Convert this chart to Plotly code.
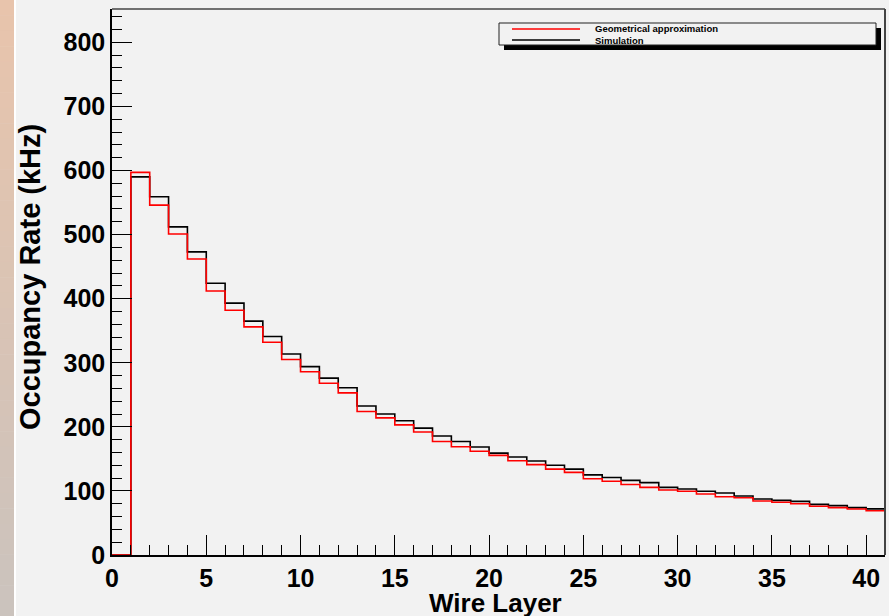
import plotly.graph_objects as go

# ---- data (bin edges 0..41, one value per unit-wide bin) ----
bin_edges = list(range(0, 42))
geometrical = [0, 597, 546, 501, 462, 412, 382, 356, 332, 305,
               286, 268, 253, 224, 214, 203, 192, 177, 169, 162,
               155.5, 147, 141, 134, 129, 119, 115, 110, 105.6, 101.4,
               99.4, 95.2, 91, 89.4, 84.2, 82.2, 80, 76, 74, 71.8,
               69]
simulation = [0, 590, 559, 512, 473, 424, 393, 365, 341, 313.6,
              294, 276, 261, 232.5, 220, 209.5, 198, 185.6, 177, 168.5,
              159, 153, 146.6, 140, 134, 125, 121, 116.5, 113, 105.6,
              103, 99.4, 96.7, 92, 87.4, 85.3, 83.7, 79, 77, 74,
              72]
x_ticks = [0, 5, 10, 15, 20, 25, 30, 35, 40]
y_ticks = [0, 100, 200, 300, 400, 500, 600, 700, 800]
legend_labels = ["Geometrical approximation", "Simulation"]

W, H = 889, 616
L, R, T, B = 112, 885, 9, 555  # plot area in pixels

def px(x):
    return (x - L) / (R - L)

def py(y):
    return (B - y) / (B - T)

FONT = "Liberation Sans, Arial, Helvetica, sans-serif"

fig = go.Figure()
fig.add_trace(go.Scatter(x=bin_edges, y=simulation + [simulation[-1]],
                         mode="lines", line=dict(color="black", width=1.6, shape="hv"),
                         name=legend_labels[1], showlegend=False, hoverinfo="skip"))
fig.add_trace(go.Scatter(x=bin_edges, y=geometrical + [geometrical[-1]],
                         mode="lines", line=dict(color="#ff0000", width=1.6, shape="hv"),
                         name=legend_labels[0], showlegend=False, hoverinfo="skip"))

shapes = []
# left gradient strip (slide background)
n = 40
c0 = (232, 196, 172)
c1 = (203, 195, 189)
for i in range(n):
    f = i / (n - 1)
    col = tuple(int(round(c0[k] + (c1[k] - c0[k]) * f)) for k in range(3))
    y0 = i * H / n
    y1 = (i + 1) * H / n + 0.5
    shapes.append(dict(type="rect", xref="paper", yref="paper",
                       x0=px(0), x1=px(14), y0=py(y1), y1=py(y0),
                       line=dict(width=0), fillcolor="rgb(%d,%d,%d)" % col, layer="below"))
shapes.append(dict(type="rect", xref="paper", yref="paper",
                   x0=px(14), x1=px(16), y0=py(H), y1=py(0),
                   line=dict(width=0), fillcolor="white", layer="below"))
# right frame thicker
shapes.append(dict(type="line", xref="paper", yref="paper",
                   x0=1, x1=1, y0=0, y1=1, line=dict(color="#444444", width=2)))
shapes.append(dict(type="line", xref="paper", yref="paper",
                   x0=0, x1=1, y0=1, y1=1, line=dict(color="#444444", width=1.5)))
# legend shadow and box
shapes.append(dict(type="rect", xref="paper", yref="paper",
                   x0=px(504), x1=px(881), y0=py(50), y1=py(28),
                   line=dict(width=0), fillcolor="black"))
shapes.append(dict(type="rect", xref="paper", yref="paper",
                   x0=px(499), x1=px(876), y0=py(45), y1=py(23),
                   line=dict(color="#222222", width=1), fillcolor="#f2f2f2"))
shapes.append(dict(type="line", xref="paper", yref="paper",
                   x0=px(512), x1=px(580), y0=py(29), y1=py(29),
                   line=dict(color="#ff0000", width=1.5)))
shapes.append(dict(type="line", xref="paper", yref="paper",
                   x0=px(512), x1=px(580), y0=py(40), y1=py(40),
                   line=dict(color="black", width=1.5)))

annotations = [
    dict(text=legend_labels[0], xref="paper", yref="paper", x=px(593), y=py(29),
         xanchor="left", yanchor="middle", showarrow=False,
         font=dict(family=FONT, size=9.5, color="black", weight="bold")),
    dict(text=legend_labels[1], xref="paper", yref="paper", x=px(593), y=py(40),
         xanchor="left", yanchor="middle", showarrow=False,
         font=dict(family=FONT, size=9.5, color="black", weight="bold")),
    dict(text="Wire Layer", xref="paper", yref="paper", x=px(495), y=py(603),
         xanchor="center", yanchor="middle", showarrow=False,
         font=dict(family=FONT, size=26, color="black", weight="bold")),
    dict(text="Occupancy Rate (kHz)", xref="paper", yref="paper", x=px(30), y=py(277),
         xanchor="center", yanchor="middle", showarrow=False, textangle=-90,
         font=dict(family=FONT, size=29, color="black", weight="bold")),
]

fig.update_layout(
    width=W, height=H,
    margin=dict(l=L, r=W - R, t=T, b=H - B, pad=0),
    paper_bgcolor="#f2f2f2", plot_bgcolor="#f2f2f2",
    shapes=shapes, annotations=annotations,
    showlegend=False,
    xaxis=dict(range=[0, 41], tickvals=x_ticks, ticktext=[str(v) for v in x_ticks],
               ticks="inside", ticklen=20, tickwidth=1, tickcolor="black",
               minor=dict(dtick=1, ticks="inside", ticklen=10, tickwidth=1, tickcolor="black"),
               showgrid=False, zeroline=False, showline=True, linecolor="black", linewidth=1.5,
               tickfont=dict(family=FONT, size=25, color="black", weight="bold")),
    yaxis=dict(range=[0, 852], tickvals=y_ticks, ticktext=[str(v) for v in y_ticks],
               ticks="inside", ticklen=20, tickwidth=1, tickcolor="black",
               minor=dict(dtick=20, ticks="inside", ticklen=10, tickwidth=1, tickcolor="black"),
               showgrid=False, zeroline=False, showline=True, linecolor="black", linewidth=1.5,
               tickfont=dict(family=FONT, size=25, color="black", weight="bold")),
)

fig.write_html("out.html")
